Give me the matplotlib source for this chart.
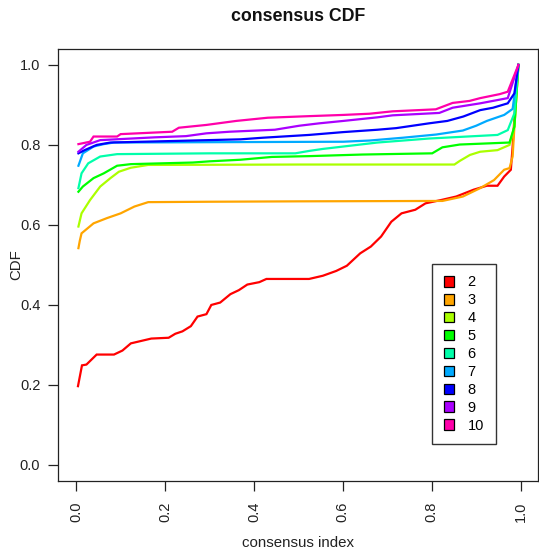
import matplotlib.pyplot as plt
from matplotlib.patches import Patch

plt.rcParams['font.family'] = ['Liberation Sans', 'DejaVu Sans']

# cumulative distribution of consensus values for each cluster count k
k_labels = ['2', '3', '4', '5', '6', '7', '8', '9', '10']
k_colors = ['#FF0000', '#FFA500', '#AAFF00', '#00FF00', '#00FFAA',
            '#00AAFF', '#0000FF', '#AA00FF', '#FF00AA']

x2 = [0.004, 0.013, 0.023, 0.046, 0.085, 0.104, 0.123, 0.146, 0.169, 0.208,
      0.223, 0.239, 0.258, 0.273, 0.293, 0.304, 0.324, 0.347, 0.366, 0.385,
      0.412, 0.428, 0.524, 0.555, 0.585, 0.609, 0.639, 0.663, 0.686, 0.709,
      0.732, 0.763, 0.786, 0.824, 0.855, 0.894, 0.924, 0.948, 0.963, 0.978,
      0.982, 0.990, 0.995]
y2 = [0.197, 0.249, 0.251, 0.276, 0.276, 0.286, 0.304, 0.310, 0.316, 0.318,
      0.328, 0.334, 0.347, 0.371, 0.377, 0.400, 0.406, 0.427, 0.437, 0.451,
      0.457, 0.465, 0.465, 0.473, 0.485, 0.498, 0.529, 0.546, 0.571, 0.608,
      0.629, 0.638, 0.654, 0.663, 0.671, 0.688, 0.698, 0.698, 0.721, 0.738,
      0.796, 0.940, 1.000]

x3 = [0.005, 0.008, 0.012, 0.039, 0.069, 0.100, 0.131, 0.162, 0.300, 0.500,
      0.824, 0.870, 0.909, 0.940, 0.963, 0.975, 0.982, 0.986, 0.995]
y3 = [0.542, 0.560, 0.579, 0.604, 0.617, 0.629, 0.646, 0.657, 0.658, 0.659,
      0.660, 0.671, 0.692, 0.712, 0.738, 0.742, 0.771, 0.846, 1.000]

x4 = [0.005, 0.012, 0.031, 0.054, 0.077, 0.096, 0.123, 0.162, 0.500, 0.851,
      0.863, 0.886, 0.909, 0.948, 0.975, 0.986, 0.995]
y4 = [0.596, 0.629, 0.662, 0.696, 0.717, 0.733, 0.743, 0.750, 0.751, 0.751,
      0.760, 0.775, 0.783, 0.787, 0.800, 0.846, 1.000]

x5 = [0.005, 0.015, 0.039, 0.062, 0.092, 0.123, 0.262, 0.300, 0.370, 0.440,
      0.524, 0.644, 0.801, 0.824, 0.863, 0.975, 0.986, 0.995]
y5 = [0.683, 0.696, 0.717, 0.729, 0.748, 0.752, 0.756, 0.759, 0.763, 0.770,
      0.772, 0.776, 0.779, 0.794, 0.801, 0.806, 0.846, 1.000]

x6 = [0.005, 0.012, 0.027, 0.054, 0.092, 0.300, 0.493, 0.524, 0.555, 0.601,
      0.678, 0.794, 0.948, 0.971, 0.986, 0.995]
y6 = [0.692, 0.729, 0.754, 0.771, 0.777, 0.779, 0.779, 0.785, 0.790, 0.796,
      0.806, 0.816, 0.825, 0.837, 0.879, 1.000]

x7 = [0.005, 0.015, 0.039, 0.062, 0.085, 0.601, 0.660, 0.735, 0.810, 0.870,
      0.900, 0.924, 0.963, 0.982, 0.995]
y7 = [0.748, 0.779, 0.796, 0.802, 0.806, 0.808, 0.811, 0.818, 0.826, 0.836,
      0.848, 0.860, 0.875, 0.890, 1.000]

x8 = [0.005, 0.019, 0.046, 0.077, 0.370, 0.420, 0.524, 0.600, 0.678, 0.720,
      0.794, 0.835, 0.871, 0.909, 0.938, 0.971, 0.986, 0.995]
y8 = [0.779, 0.787, 0.800, 0.806, 0.814, 0.818, 0.825, 0.832, 0.838, 0.842,
      0.854, 0.860, 0.871, 0.887, 0.893, 0.904, 0.929, 1.000]

x9 = [0.005, 0.023, 0.054, 0.177, 0.247, 0.293, 0.345, 0.447, 0.502, 0.547,
      0.601, 0.678, 0.712, 0.817, 0.847, 0.909, 0.971, 0.995]
y9 = [0.783, 0.800, 0.812, 0.819, 0.822, 0.829, 0.833, 0.838, 0.848, 0.854,
      0.860, 0.869, 0.874, 0.880, 0.893, 0.904, 0.917, 1.000]

x10 = [0.005, 0.031, 0.039, 0.092, 0.100, 0.216, 0.231, 0.293, 0.360, 0.431,
       0.525, 0.601, 0.660, 0.712, 0.809, 0.847, 0.885, 0.909, 0.953, 0.971,
       0.995]
y10 = [0.802, 0.808, 0.821, 0.821, 0.827, 0.833, 0.843, 0.850, 0.860, 0.868,
       0.872, 0.875, 0.878, 0.884, 0.889, 0.905, 0.910, 0.917, 0.927, 0.933,
       1.000]

xs = [x2, x3, x4, x5, x6, x7, x8, x9, x10]
ys = [y2, y3, y4, y5, y6, y7, y8, y9, y10]
ticks = [0.0, 0.2, 0.4, 0.6, 0.8, 1.0]

fig = plt.figure(figsize=(5.39, 5.49), dpi=100)
ax = fig.add_axes([0.1084, 0.1239, 0.8905, 0.787])

for x, y, c in zip(xs, ys, k_colors):
    ax.plot(x, y, color=c, lw=1.6, solid_joinstyle='miter')

ax.set_xlim(-0.04, 1.04)
ax.set_ylim(-0.04, 1.04)
ax.set_xticks(ticks)
ax.set_yticks(ticks)
ax.set_xticklabels(['%.1f' % t for t in ticks], rotation=90)
ax.set_yticklabels(['%.1f' % t for t in ticks])
ax.tick_params(direction='out', length=7, width=0.9, colors='#222222',
               labelsize=10.5, pad=6)
ax.tick_params(axis='x', pad=8)
for s in ax.spines.values():
    s.set_linewidth(0.9)
    s.set_color('#222222')

ax.set_xlabel('consensus index', fontsize=10.8, color='#222222')
ax.xaxis.set_label_coords(0.5, -0.128)
ax.set_ylabel('CDF', fontsize=10.8, color='#222222')
ax.yaxis.set_label_coords(-0.074, 0.5)

fig.text(0.5537, 1 - 16.7 / 549, 'consensus CDF', ha='center', va='center',
         fontsize=12.8, fontweight='bold', color='#111111')

handles = [Patch(facecolor=c, edgecolor='black', lw=0.9) for c in k_colors]
leg = ax.legend(handles, k_labels, loc='upper left', bbox_to_anchor=(0.778, 0.503),
                borderaxespad=0, fontsize=10.5, handlelength=0.75,
                handleheight=0.75, labelspacing=0.27, borderpad=0.8,
                handletextpad=0.9, fancybox=False, framealpha=1)
leg.get_frame().set_edgecolor('#333333')
leg.get_frame().set_linewidth(1.0)

fig.savefig('out.png', dpi=100)
